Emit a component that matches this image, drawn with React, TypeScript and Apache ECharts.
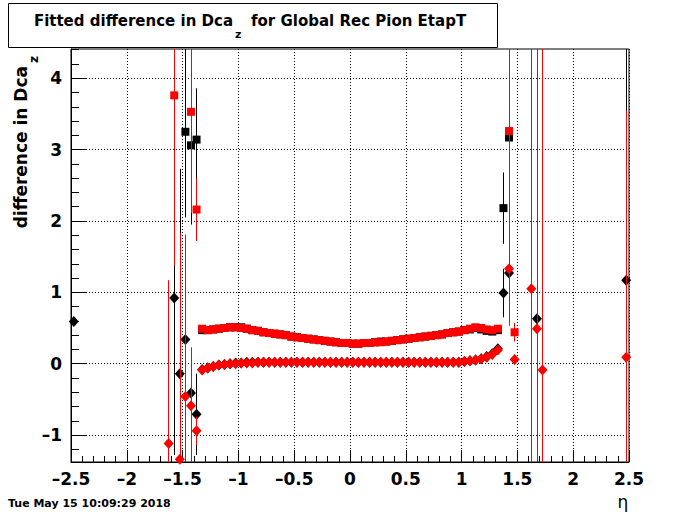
import React, { useEffect, useRef } from 'react';
import * as echarts from 'echarts';

// ---------- data ----------
const xTicks = [-2.5, -2, -1.5, -1, -0.5, 0, 0.5, 1, 1.5, 2, 2.5];
const yMajorTicks = [-1, 0, 1, 2, 3, 4];
const yMinorTicks = [-1.2, -0.8, -0.6, -0.4, -0.2, 0.2, 0.4, 0.6, 0.8, 1.2, 1.4, 1.6, 1.8, 2.2, 2.4, 2.6, 2.8, 3.2, 3.4, 3.6, 3.8, 4.2, 4.4];
const X_MIN = -2.5;
const X_MAX = 2.5;
const Y_MIN = -1.378;
const Y_MAX = 4.41;

const midEta = [-1.325, -1.275, -1.225, -1.175, -1.125, -1.075, -1.025, -0.975, -0.925, -0.875, -0.825, -0.775, -0.725, -0.675, -0.625, -0.575, -0.525, -0.475, -0.425, -0.375, -0.325, -0.275, -0.225, -0.175, -0.125, -0.075, -0.025,
  0.025, 0.075, 0.125, 0.175, 0.225, 0.275, 0.325, 0.375, 0.425, 0.475, 0.525, 0.575, 0.625, 0.675, 0.725, 0.775, 0.825, 0.875, 0.925, 0.975, 1.025, 1.075, 1.125, 1.175, 1.225, 1.275, 1.325];

const redSqMid = [0.49, 0.47, 0.48, 0.49, 0.50, 0.51, 0.51, 0.50, 0.49, 0.47, 0.46, 0.44, 0.43, 0.42, 0.41, 0.40, 0.38, 0.37, 0.36, 0.35, 0.34, 0.33, 0.32, 0.31, 0.30, 0.29, 0.29,
  0.28, 0.28, 0.29, 0.29, 0.30, 0.30, 0.31, 0.32, 0.33, 0.34, 0.35, 0.36, 0.37, 0.38, 0.39, 0.40, 0.41, 0.43, 0.44, 0.45, 0.47, 0.49, 0.51, 0.50, 0.48, 0.47, 0.49];
const blackSqMid = [0.47, 0.47, 0.48, 0.49, 0.50, 0.51, 0.51, 0.51, 0.49, 0.47, 0.46, 0.44, 0.43, 0.42, 0.41, 0.40, 0.38, 0.37, 0.36, 0.35, 0.34, 0.33, 0.32, 0.31, 0.30, 0.29, 0.29,
  0.28, 0.28, 0.29, 0.29, 0.30, 0.31, 0.31, 0.32, 0.33, 0.34, 0.35, 0.36, 0.37, 0.38, 0.39, 0.40, 0.41, 0.43, 0.44, 0.45, 0.47, 0.48, 0.50, 0.48, 0.46, 0.45, 0.47];
const redDiaMid = [-0.09, -0.06, -0.04, -0.02, -0.01, 0.00, 0.00, 0.01, 0.01, 0.01, 0.02, 0.02, 0.02, 0.02, 0.02, 0.02, 0.02, 0.02, 0.02, 0.02, 0.02, 0.02, 0.02, 0.02, 0.02, 0.02, 0.02,
  0.02, 0.02, 0.02, 0.02, 0.02, 0.02, 0.02, 0.02, 0.02, 0.02, 0.02, 0.02, 0.02, 0.02, 0.02, 0.02, 0.02, 0.02, 0.02, 0.02, 0.03, 0.04, 0.05, 0.07, 0.09, 0.13, 0.19];
const blackDiaMid = [-0.08, -0.06, -0.04, -0.02, -0.01, 0.00, 0.01, 0.01, 0.02, 0.02, 0.02, 0.02, 0.02, 0.02, 0.02, 0.02, 0.02, 0.02, 0.02, 0.02, 0.02, 0.02, 0.02, 0.02, 0.02, 0.02, 0.02,
  0.02, 0.02, 0.02, 0.02, 0.02, 0.02, 0.02, 0.02, 0.02, 0.02, 0.02, 0.02, 0.02, 0.02, 0.02, 0.02, 0.02, 0.02, 0.02, 0.02, 0.03, 0.04, 0.05, 0.07, 0.10, 0.14, 0.21];

// outlying bins (eta, value, error)
const blackSqOutEta = [-1.475, -1.425, -1.375, 1.375, 1.425];
const blackSqOutVal = [3.25, 3.06, 3.14, 2.18, 3.17];
const blackSqOutErr = [1.2, 1.11, 0.72, 0.5, 1.0];

const redSqOutEta = [-1.575, -1.425, -1.375, 1.425, 1.475];
const redSqOutVal = [3.76, 3.53, 2.16, 3.26, 0.44];
const redSqOutErr = [2.39, 1.42, 0.44, 1.2, 0.13];

const blackDiaOutEta = [-2.475, -1.575, -1.525, -1.475, -1.425, -1.375, 1.375, 1.425, 1.675, 2.475];
const blackDiaOutVal = [0.59, 0.92, -0.14, 0.34, -0.41, -0.71, 0.99, 1.27, 0.63, 1.17];
const blackDiaOutErr = [0.0, 2.2, 2.87, 0.1, 0.2, 0.57, 0.34, 0.2, 0.2, 3.5];

const redDiaOutEta = [-1.625, -1.525, -1.475, -1.425, -1.375, 1.425, 1.475, 1.625, 1.675, 1.725, 2.475];
const redDiaOutVal = [-1.12, -1.34, -0.46, -0.59, -0.94, 1.33, 0.06, 1.05, 0.49, -0.09, 0.09];
const redDiaOutErr = [2.29, 3.17, 2.27, 0.82, 0.2, 0.8, 0.07, 6.0, 6.0, 6.0, 3.46];

// ---------- helpers ----------
function markers(etaA: number[], valA: number[], etaB: number[], valB: number[]) {
  const out: number[][] = [];
  etaA.forEach((x, i) => out.push([x, valA[i]]));
  etaB.forEach((x, i) => out.push([x, valB[i]]));
  return out;
}
// vertical error segments, clamped to the visible axis range
function segments(eta: number[], val: number[], err: number[]) {
  const out: any[] = [];
  eta.forEach((x, i) => {
    if (!(err[i] > 0)) return;
    const lo = Math.max(val[i] - err[i], Y_MIN);
    const hi = Math.min(val[i] + err[i], Y_MAX);
    out.push({ coords: [[x, lo], [x, hi]] });
  });
  return out;
}

const FONT = 'DejaVu Sans';

function errorSeries(name: string, data: any[], color: string, z: number) {
  return {
    type: 'lines',
    name,
    coordinateSystem: 'cartesian2d',
    data,
    z,
    silent: true,
    polyline: false,
    symbol: 'none',
    lineStyle: { color, width: 1, opacity: 1, type: 'solid' },
    effect: { show: false },
  };
}

function markerSeries(name: string, data: number[][], color: string, symbol: string, size: any, z: number) {
  return {
    type: 'scatter',
    name,
    data,
    symbol,
    symbolSize: size,
    itemStyle: { color, opacity: 1 },
    z,
    silent: true,
  };
}

const minusFmt = (v: number) => String(v).replace('-', '\u2013');

export default function App() {
  const ref = useRef<HTMLDivElement>(null);

  useEffect(() => {
    if (!ref.current) return;
    const chart = echarts.init(ref.current, null, { renderer: 'svg' });

    const blackSq = markers(midEta, blackSqMid, blackSqOutEta, blackSqOutVal);
    const redSq = markers(midEta, redSqMid, redSqOutEta, redSqOutVal);
    const blackDia = markers(midEta, blackDiaMid, blackDiaOutEta, blackDiaOutVal);
    const redDia = markers(midEta, redDiaMid, redDiaOutEta, redDiaOutVal);

    const blackErrs = [
      ...segments(blackSqOutEta, blackSqOutVal, blackSqOutErr),
      ...segments(blackDiaOutEta, blackDiaOutVal, blackDiaOutErr),
    ];
    const redErrs = [
      ...segments(redSqOutEta, redSqOutVal, redSqOutErr),
      ...segments(redDiaOutEta, redDiaOutVal, redDiaOutErr),
    ];

    const option: any = {
      animation: false,
      backgroundColor: '#ffffff',
      grid: {
        left: 71, right: 71, top: 49, bottom: 52,
        show: true, borderColor: '#000', borderWidth: 1,
        containLabel: false, outerBoundsMode: 'none',
      },
      xAxis: {
        type: 'value',
        min: X_MIN, max: X_MAX, interval: 0.5,
        axisLine: { show: true, onZero: false, lineStyle: { color: '#000', width: 1 } },
        axisTick: { show: true, inside: true, length: 12, lineStyle: { color: '#000', width: 1 } },
        minorTick: { show: true, splitNumber: 5, length: 6, lineStyle: { color: '#000', width: 1 } },
        splitLine: { show: true, lineStyle: { color: '#000', type: [1, 2], width: 1 } },
        axisLabel: {
          show: true, margin: 8, color: '#000', fontFamily: FONT, fontWeight: 'bold', fontSize: 17,
          showMinLabel: true, showMaxLabel: true,
          formatter: (v: number) => (xTicks.indexOf(v) >= 0 ? minusFmt(v) : ''),
        },
      },
      yAxis: [
        {
          type: 'value',
          min: Y_MIN, max: Y_MAX, splitNumber: 6,
          axisLine: { show: true, onZero: false, lineStyle: { color: '#000', width: 1 } },
          axisTick: { show: true, inside: true, length: 16, customValues: yMajorTicks, lineStyle: { color: '#000', width: 1 } },
          splitLine: { show: true, lineStyle: { color: '#000', type: [1, 2], width: 1 } },
          axisLabel: {
            show: true, margin: 9, color: '#000', fontFamily: FONT, fontWeight: 'bold', fontSize: 17,
            customValues: yMajorTicks,
            formatter: (v: number) => minusFmt(v),
          },
        },
        {
          type: 'value',
          min: Y_MIN, max: Y_MAX,
          position: 'left',
          axisLine: { show: false, onZero: false },
          axisTick: { show: true, inside: true, length: 8, customValues: yMinorTicks, lineStyle: { color: '#000', width: 1 } },
          splitLine: { show: false },
          axisLabel: { show: false },
        },
      ],
      series: [
        errorSeries('blackErr', blackErrs, '#000000', 2),
        markerSeries('blackSq', blackSq, '#000000', 'rect', 8, 3),
        markerSeries('blackDia', blackDia, '#000000', 'diamond', [10, 11], 3),
        errorSeries('redErr', redErrs, '#ff0000', 4),
        markerSeries('redSq', redSq, '#ff0000', 'rect', 8, 5),
        markerSeries('redDia', redDia, '#ff0000', 'diamond', [10, 11], 5),
      ],
      graphic: [
        {
          type: 'rect', z: 10,
          shape: { x: 8.5, y: 3.5, width: 489, height: 44 },
          style: { fill: '#fff', stroke: '#000', lineWidth: 1 },
        },
        {
          type: 'text', z: 11, x: 233, y: 21,
          style: { text: 'Fitted difference in Dca', fill: '#000', font: `bold 15px "${FONT}"`, align: 'right', verticalAlign: 'middle' },
        },
        {
          type: 'text', z: 11, x: 235, y: 34,
          style: { text: 'z', fill: '#000', font: `bold 11px "${FONT}"`, align: 'left', verticalAlign: 'middle' },
        },
        {
          type: 'text', z: 11, x: 251, y: 21,
          style: { text: 'for Global Rec Pion EtapT', fill: '#000', font: `bold 15px "${FONT}"`, align: 'left', verticalAlign: 'middle' },
        },
        {
          type: 'text', z: 11, x: 21, y: 66, rotation: Math.PI / 2,
          style: { text: 'difference in Dca', fill: '#000', font: `bold 17px "${FONT}"`, align: 'right', verticalAlign: 'middle' },
        },
        {
          type: 'text', z: 11, x: 34, y: 63, rotation: Math.PI / 2,
          style: { text: 'z', fill: '#000', font: `bold 12px "${FONT}"`, align: 'left', verticalAlign: 'middle' },
        },
        {
          type: 'text', z: 11, x: 623, y: 502,
          style: { text: 'η', fill: '#000', font: `17px "${FONT}"`, align: 'center', verticalAlign: 'middle' },
        },
        {
          type: 'text', z: 11, x: 8, y: 503,
          style: { text: 'Tue May 15 10:09:29 2018', fill: '#000', font: `bold 11px "${FONT}"`, align: 'left', verticalAlign: 'middle' },
        },
      ],
    };

    chart.setOption(option);
    return () => chart.dispose();
  }, []);

  return (
    <div
      ref={ref}
      style={{ position: 'fixed', left: 0, top: 0, width: 700, height: 514, background: '#fff' }}
    />
  );
}
